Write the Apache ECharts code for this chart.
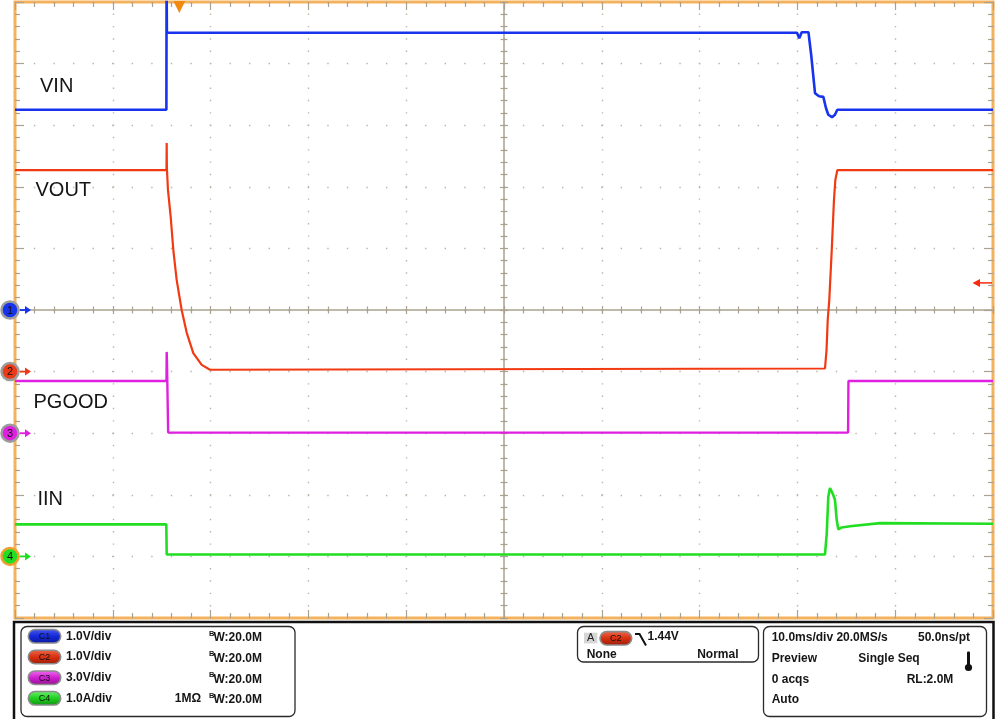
<!DOCTYPE html>
<html><head><meta charset="utf-8">
<script src="https://cdn.jsdelivr.net/npm/echarts@6/dist/echarts.min.js"></script>
<style>html,body{margin:0;padding:0;background:#fff;}#c{width:1000px;height:719px;}</style>
</head><body><div id="c"></div>
<script>
// ---- Data (time in ms over the 10 div screen, values in channel units) ----
const vinT  = [0, 15.48, 15.50, 15.53, 79.96, 80.19, 80.44, 80.85, 81.13, 81.41, 81.80, 82.21, 82.65, 82.92, 83.16, 83.54, 83.84, 84.08, 100];
const vinV  = [3.25, 3.25, 5.40, 4.50, 4.50, 4.41, 4.51, 4.51, 4.51, 4.14, 3.52, 3.47, 3.46, 3.28, 3.17, 3.13, 3.17, 3.25, 3.25];

const voutT = [0, 15.49, 15.51, 15.53, 15.64, 15.92, 16.19, 16.53, 17.04, 17.56, 18.23, 19.09, 19.94, 82.82, 82.98, 83.10, 83.26, 83.51, 83.74, 83.88, 84.08, 100];
const voutV = [3.27, 3.27, 3.71, 3.31, 2.95, 2.51, 1.97, 1.49, 1.00, 0.63, 0.30, 0.11, 0.03, 0.05, 0.35, 0.84, 1.16, 1.97, 2.79, 3.11, 3.27, 3.27];

const pgT   = [0, 15.49, 15.51, 15.54, 15.66, 85.18, 85.22, 100];
const pgV   = [2.54, 2.54, 3.96, 3.50, 0.03, 0.03, 2.54, 2.54];

const iinT  = [0, 15.47, 15.51, 82.82, 83.00, 83.16, 83.33, 83.61, 83.84, 84.02, 84.18, 84.53, 85.38, 88.45, 100];
const iinV  = [0.52, 0.52, 0.03, 0.03, 0.37, 0.97, 1.11, 1.02, 0.92, 0.59, 0.44, 0.47, 0.49, 0.54, 0.53];

const labelsTrace = ['VIN', 'VOUT', 'PGOOD', 'IIN'];
const chNames = ['1', '2', '3', '4'];
const chScale = ['1.0V/div', '1.0V/div', '3.0V/div', '1.0A/div'];
const triggerTime = 16.8;
const triggerLevel = 1.44;

// ---- Chart ----
const chart = echarts.init(document.getElementById('c'));
const tickColor = '#aaa28e';
const dotColor = '#bdb5a4';
const FONT = '"Liberation Sans", Arial, sans-serif';
const cBlue = '#1733ee', cRed = '#f23a12', cMag = '#e020e0', cGreen = '#22de22';

function zip(a, b) { return a.map((v, i) => [v, b[i]]); }

function edgeX(pos, split) {
  return {
    type: 'value', min: 0, max: 100, interval: 10, position: pos,
    axisLine: { show: false, onZero: false }, axisLabel: { show: false },
    axisTick: { show: true, inside: true, length: 8, lineStyle: { color: tickColor, width: 1.2 } },
    minorTick: { show: true, splitNumber: 5, length: 5, lineStyle: { color: tickColor, width: 1.2 } },
    splitLine: split ? { show: true, lineStyle: { color: dotColor, width: 1.4, type: [1.4, 10.92], dashOffset: 0.7, cap: 'butt' } } : { show: false }
  };
}
function centerX(inside, line) {
  return {
    type: 'value', min: 0, max: 100, interval: 10, position: 'bottom', offset: -308,
    axisLine: { show: line, onZero: false, lineStyle: { color: tickColor, width: 1.5 } }, axisLabel: { show: false },
    axisTick: { show: true, inside: inside, length: 4, lineStyle: { color: tickColor, width: 1.2 } },
    minorTick: { show: true, splitNumber: 5, length: 3.5, lineStyle: { color: tickColor, width: 1.2 } },
    splitLine: { show: false }
  };
}
function edgeY(pos, split) {
  return {
    type: 'value', min: -5, max: 5, interval: 1, position: pos,
    axisLine: { show: false, onZero: false }, axisLabel: { show: false },
    axisTick: { show: true, inside: true, length: 9, lineStyle: { color: tickColor, width: 1.2 } },
    minorTick: { show: true, splitNumber: 5, length: 5, lineStyle: { color: tickColor, width: 1.2 } },
    splitLine: split ? { show: true, lineStyle: { color: dotColor, width: 1.4, type: [1.4, 18.16], dashOffset: 0.7, cap: 'butt' } } : { show: false }
  };
}
function centerY(inside, line) {
  return {
    type: 'value', min: -5, max: 5, interval: 1, position: 'left', offset: -489,
    axisLine: { show: line, onZero: false, lineStyle: { color: tickColor, width: 1.5 } }, axisLabel: { show: false },
    axisTick: { show: true, inside: inside, length: 4, lineStyle: { color: tickColor, width: 1.2 } },
    minorTick: { show: true, splitNumber: 5, length: 3.5, lineStyle: { color: tickColor, width: 1.2 } },
    splitLine: { show: false }
  };
}
function hiddenY(min, max) {
  return { type: 'value', min: min, max: max, position: 'left', show: false, axisLine: { onZero: false } };
}

const option = {
  animation: false,
  backgroundColor: '#fff',
  grid: { left: 15, top: 2, width: 978, height: 616, show: true, borderColor: '#f5b25c', borderWidth: 3, backgroundColor: '#fff', containLabel: false, outerBoundsMode: 'none' },
  xAxis: [edgeX('bottom', true), edgeX('top', false), centerX(true, true), centerX(false, false)],
  yAxis: [edgeY('left', true), edgeY('right', false), centerY(true, true), centerY(false, false),
          hiddenY(-4, 6), hiddenY(-9, 21), hiddenY(-1, 9)],
  visualMap: [
    { show: false, type: 'piecewise', seriesIndex: 0, dimension: 0,
      pieces: [{ lt: 15.44, color: cBlue }, { gte: 15.44, lt: 15.56, color: '#14206e' }, { gte: 15.56, color: cBlue }] },
    { show: false, type: 'piecewise', seriesIndex: 2, dimension: 0,
      pieces: [{ lt: 15.47, color: cMag }, { gte: 15.47, lt: 15.7, color: '#7a1d7a' }, { gte: 15.7, lt: 85.1, color: cMag }, { gte: 85.1, lt: 85.3, color: '#8a2a8a' }, { gte: 85.3, color: cMag }] }
  ],
  series: [
    { name: labelsTrace[0], type: 'line', xAxisIndex: 0, yAxisIndex: 0, data: zip(vinT, vinV), showSymbol: false, symbol: 'none', lineStyle: { color: cBlue, width: 2.6 }, z: 5 },
    { name: labelsTrace[1], type: 'line', xAxisIndex: 0, yAxisIndex: 4, data: zip(voutT, voutV), showSymbol: false, symbol: 'none', lineStyle: { color: cRed, width: 2.2 }, z: 4 },
    { name: labelsTrace[2], type: 'line', xAxisIndex: 0, yAxisIndex: 5, data: zip(pgT, pgV), showSymbol: false, symbol: 'none', lineStyle: { color: cMag, width: 2.4 }, z: 4 },
    { name: labelsTrace[3], type: 'line', xAxisIndex: 0, yAxisIndex: 6, data: zip(iinT, iinV), showSymbol: false, symbol: 'none', lineStyle: { color: cGreen, width: 2.6 }, z: 4 }
  ]
};
chart.setOption(option);

const px = v => chart.convertToPixel({ xAxisIndex: 0 }, v);
const py = (yi, v) => chart.convertToPixel({ yAxisIndex: yi }, v);

const g = [];
function txt(x, y, s, opt) {
  opt = opt || {};
  g.push({ type: 'text', x: x, y: y, z: opt.z || 50, style: { text: s, fill: opt.fill || '#151515', font: opt.font || ('bold 12px ' + FONT), align: opt.align || 'left', verticalAlign: 'middle' } });
}
// trace names
txt(40, 86.7, labelsTrace[0], { font: '20px ' + FONT });
txt(35.5, 190, labelsTrace[1], { font: '20px ' + FONT });
txt(33.5, 402.2, labelsTrace[2], { font: '20px ' + FONT });
txt(37.5, 499.7, labelsTrace[3], { font: '20px ' + FONT });

// channel ground markers
const chCols = [cBlue, '#ec3a16', cMag, cGreen];
const chAxes = [0, 4, 5, 6];
chAxes.forEach((yi, i) => {
  const y = py(yi, 0);
  g.push({ type: 'circle', z: 60, shape: { cx: 10, cy: y, r: 8.5 }, style: { fill: chCols[i], stroke: i === 3 ? '#f0a030' : '#9c9c9c', lineWidth: 2.5 } });
  txt(10, y + 0.5, chNames[i], { align: 'center', font: '11px ' + FONT, fill: '#111', z: 62 });
  g.push({ type: 'line', z: 60, shape: { x1: 20, y1: y, x2: 26, y2: y }, style: { stroke: chCols[i], lineWidth: 1.8 } });
  g.push({ type: 'polygon', z: 60, shape: { points: [[25, y - 4], [31, y], [25, y + 4]] }, style: { fill: chCols[i] } });
});

// trigger position & level
const tx = px(triggerTime);
g.push({ type: 'polygon', z: 60, shape: { points: [[tx - 6, 1], [tx + 6, 1], [tx, 13]] }, style: { fill: '#f28a12' } });
const ty = py(4, triggerLevel);
g.push({ type: 'line', z: 60, shape: { x1: 979, y1: ty, x2: 992, y2: ty }, style: { stroke: '#f52a10', lineWidth: 1.5 } });
g.push({ type: 'polygon', z: 60, shape: { points: [[980, ty - 4], [972.5, ty], [980, ty + 4]] }, style: { fill: '#f52a10' } });

// bottom panel
g.push({ type: 'rect', z: 40, shape: { x: 14, y: 622, width: 979.5, height: 110 }, style: { fill: '#fff', stroke: '#111', lineWidth: 2.5 } });
[[21, 626.5, 274, 90], [577.5, 626.5, 181, 35.5], [763.5, 626.5, 223, 90]].forEach(b => {
  g.push({ type: 'rect', z: 41, shape: { x: b[0], y: b[1], width: b[2], height: b[3], r: 6 }, style: { fill: 'none', stroke: '#2a2a2a', lineWidth: 1.3 } });
});
function pill(x, y, w, h, col, label) {
  g.push({ type: 'rect', z: 45, shape: { x: x, y: y - h / 2, width: w, height: h, r: h / 2 },
    style: { fill: new echarts.graphic.LinearGradient(0, 0, 0, 1, [{ offset: 0, color: col[0] }, { offset: 0.5, color: col[1] }, { offset: 1, color: col[2] }]), stroke: '#8c8c8c', lineWidth: 1.6 } });
  txt(x + w / 2, y + 0.5, label, { align: 'center', font: '9px ' + FONT, fill: '#101010', z: 47 });
}
const rows = [636.3, 657, 677.7, 698.3];
const pillCols = [['#4a5cf0', '#1428d8', '#0c1a9a'], ['#f06a4a', '#d83010', '#9a1c08'], ['#f070f0', '#d020d0', '#901090'], ['#70f070', '#20d020', '#109010']];
rows.forEach((y, i) => {
  pill(28.3, y, 32.4, 13.5, pillCols[i], 'C' + chNames[i]);
  txt(66, y, chScale[i]);
  txt(209, y - 2.8, 'B', { font: 'bold 7.5px ' + FONT });
  txt(213.5, y + 1.5, 'W:20.0M');
});
txt(201, rows[3], '1M\u03A9', { align: 'right' });

// trigger box
g.push({ type: 'rect', z: 45, shape: { x: 584, y: 632.7, width: 13.3, height: 10.7 }, style: { fill: '#d6d6d6' } });
txt(590.7, 638.3, 'A', { align: 'center', font: '11px ' + FONT, fill: '#222' });
pill(600, 638.3, 31.7, 13.3, pillCols[1], 'C2');
g.push({ type: 'polyline', z: 45, shape: { points: [[635, 634], [639.5, 634], [646, 645.5]] }, style: { stroke: '#111', lineWidth: 2, fill: 'none' } });
txt(647.5, 636.3, '1.44V');
txt(586.7, 654.7, 'None');
txt(738.5, 654.7, 'Normal', { align: 'right' });

// acquisition box
txt(771.7, 637.3, '10.0ms/div 20.0MS/s');
txt(970, 637.3, '50.0ns/pt', { align: 'right' });
txt(771.7, 659, 'Preview');
txt(858.3, 659, 'Single Seq');
txt(771.7, 680, '0 acqs');
txt(953.3, 680, 'RL:2.0M', { align: 'right' });
txt(771.7, 700, 'Auto');
g.push({ type: 'rect', z: 45, shape: { x: 967, y: 651.5, width: 3, height: 15, r: 1 }, style: { fill: '#111' } });
g.push({ type: 'circle', z: 45, shape: { cx: 968.5, cy: 667.5, r: 3.6 }, style: { fill: '#111' } });

chart.setOption({ graphic: { elements: g } });
</script>
</body></html>
